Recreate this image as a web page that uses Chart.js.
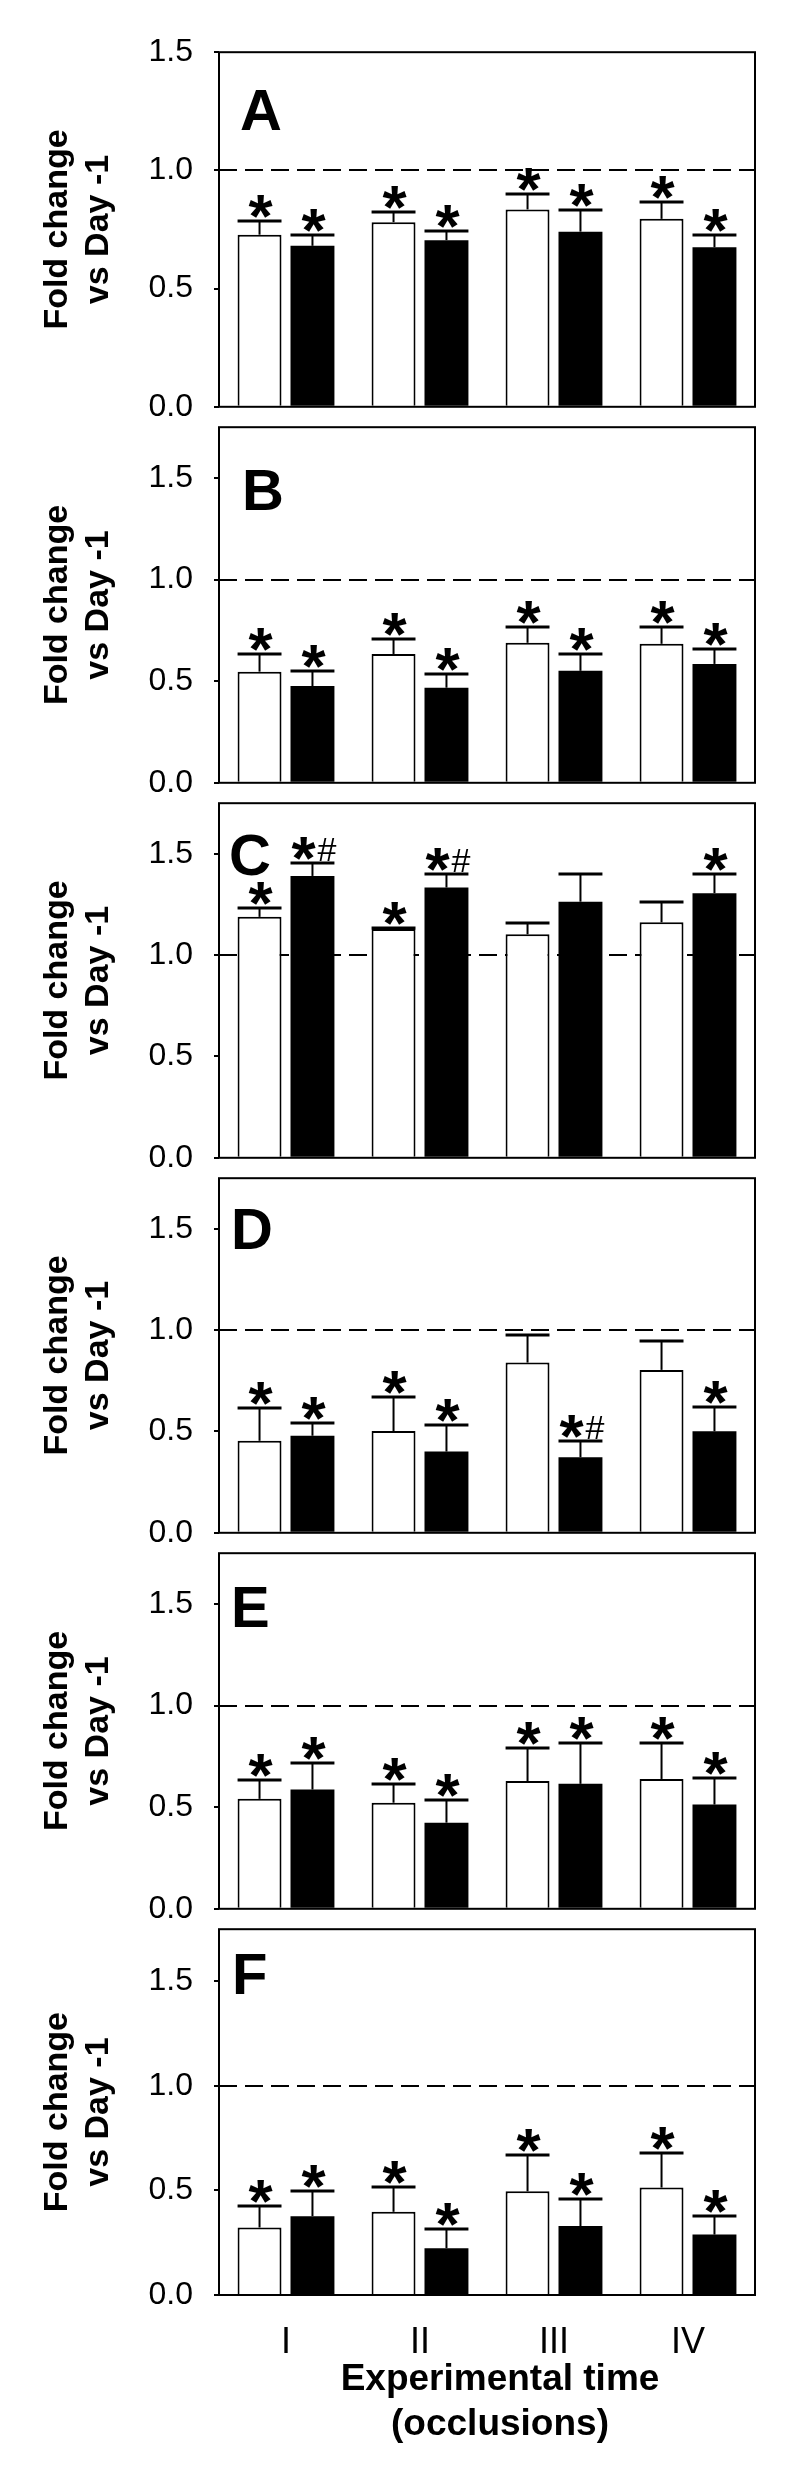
<!DOCTYPE html>
<html>
<head>
<meta charset="utf-8">
<script src="https://cdn.jsdelivr.net/npm/chart.js@4.4.1/dist/chart.umd.min.js"></script>
<style>
  body { margin: 0; background: #fff; }
  #fig { position: relative; width: 800px; height: 2475px; background: #fff; }
  #fig canvas { position: absolute; left: 0; }
</style>
</head>
<body>
<div id="fig"></div>
<script>
/*======== DATOS =============*/
const categories = ['I', 'II', 'III', 'IV'];
const yTicks = [0, 0.5, 1.0, 1.5];
const panelLetters = ['A', 'B', 'C', 'D', 'E', 'F'];
const yMax = [1.5, 1.75, 1.75, 1.75, 1.75, 1.75];
const refLine = 1.0;
const xTitle = ['Experimental time', '(occlusions)'];
const yTitle = ['Fold change', 'vs Day -1'];

// A
const aWhite = [0.728, 0.781, 0.835, 0.795];
const aWhiteErr = [0.060, 0.044, 0.066, 0.073];
const aBlack = [0.681, 0.705, 0.741, 0.675];
const aBlackErr = [0.044, 0.040, 0.091, 0.053];
const aWhiteSig = ['*', '*', '*', '*'];
const aBlackSig = ['*', '*', '*', '*'];
// B
const bWhite = [0.547, 0.634, 0.689, 0.684];
const bWhiteErr = [0.087, 0.076, 0.076, 0.081];
const bBlack = [0.476, 0.468, 0.551, 0.585];
const bBlackErr = [0.075, 0.068, 0.081, 0.072];
const bWhiteSig = ['*', '*', '*', '*'];
const bBlackSig = ['*', '*', '*', '*'];
// C
const cWhite = [1.189, 1.129, 1.103, 1.162];
const cWhiteErr = [0.042, 0.006, 0.054, 0.100];
const cBlack = [1.391, 1.334, 1.264, 1.306];
const cBlackErr = [0.066, 0.068, 0.135, 0.093];
const cWhiteSig = ['*', '*', '', ''];
const cBlackSig = ['*#', '*#', '', '*'];
// D
const dWhite = [0.454, 0.502, 0.840, 0.804];
const dWhiteErr = [0.163, 0.167, 0.135, 0.141];
const dBlack = [0.479, 0.401, 0.373, 0.501];
const dBlackErr = [0.061, 0.131, 0.078, 0.121];
const dWhiteSig = ['*', '*', '', ''];
const dBlackSig = ['*', '*', '*#', '*'];
// E
const eWhite = [0.541, 0.522, 0.629, 0.639];
const eWhiteErr = [0.093, 0.093, 0.161, 0.179];
const eBlack = [0.587, 0.424, 0.615, 0.513];
const eBlackErr = [0.131, 0.112, 0.201, 0.133];
const eWhiteSig = ['*', '*', '*', '*'];
const eBlackSig = ['*', '*', '*', '*'];
// F
const fWhite = [0.323, 0.398, 0.496, 0.514];
const fWhiteErr = [0.103, 0.119, 0.173, 0.163];
const fBlack = [0.377, 0.224, 0.330, 0.289];
const fBlackErr = [0.119, 0.093, 0.129, 0.091];
const fWhiteSig = ['*', '*', '*', '*'];
const fBlackSig = ['*', '*', '*', '*'];

const panels = [
	[aWhite, aWhiteErr, aWhiteSig, aBlack, aBlackErr, aBlackSig],
	[bWhite, bWhiteErr, bWhiteSig, bBlack, bBlackErr, bBlackSig],
	[cWhite, cWhiteErr, cWhiteSig, cBlack, cBlackErr, cBlackSig],
	[dWhite, dWhiteErr, dWhiteSig, dBlack, dBlackErr, dBlackSig],
	[eWhite, eWhiteErr, eWhiteSig, eBlack, eBlackErr, eBlackSig],
	[fWhite, fWhiteErr, fWhiteSig, fBlack, fBlackErr, fBlackSig]
];

/*======== LAYOUT =============*/
const FONT = '"Liberation Sans", Arial, sans-serif';
const areaTop = [42, 417, 793, 1168, 1543, 1919];
const areaBottom = [417, 793, 1168, 1543, 1919, 2295];
const letterX = [240, 242, 229, 231, 231, 232];
const letterBase = [78, 83, 72, 71, 74, 65];
const PAD = 30;

/*======== PLUGIN: linea 1.0, barras de error, asteriscos, marco =============*/
const figPlugin = {
	id: 'fig',
	beforeDatasetsDraw(chart){
		const {ctx, chartArea: a} = chart;
		const y = chart.scales.y;
		const yy = Math.round(y.getPixelForValue(refLine));
		ctx.save();
		ctx.strokeStyle = '#000';
		ctx.lineWidth = 2;
		ctx.setLineDash([18, 8]);
		ctx.beginPath();
		ctx.moveTo(a.left, yy);
		ctx.lineTo(a.right, yy);
		ctx.stroke();
		ctx.restore();
	},
	afterDatasetsDraw(chart){
		const {ctx, chartArea: a} = chart;
		const y = chart.scales.y;
		const o = chart.options.plugins.fig;
		ctx.save();
		ctx.strokeStyle = '#000';
		ctx.fillStyle = '#000';
		chart.data.datasets.forEach((ds, di) => {
			const meta = chart.getDatasetMeta(di);
			meta.data.forEach((bar, i) => {
				const yTop = y.getPixelForValue(ds.data[i]);
				const yCap = Math.round(y.getPixelForValue(ds.data[i] + ds.err[i]));
				const w = bar.width;
				ctx.lineWidth = 2;
				ctx.beginPath();
				ctx.moveTo(bar.x, yTop);
				ctx.lineTo(bar.x, yCap);
				ctx.stroke();
				ctx.lineWidth = 3;
				ctx.beginPath();
				ctx.moveTo(bar.x - w / 2, yCap);
				ctx.lineTo(bar.x + w / 2, yCap);
				ctx.stroke();

				const s = ds.sig[i];
				if(s){
					ctx.font = 'bold 62px ' + FONT;
					ctx.textAlign = 'center';
					ctx.textBaseline = 'alphabetic';
					const m = ctx.measureText('*');
					const base = yCap - 3 - m.actualBoundingBoxDescent;
					const sx = s.length > 1 ? bar.x - 9 : bar.x + 1;
					ctx.fillText('*', sx, base);
					if(s.length > 1){
						ctx.font = '34px ' + FONT;
						ctx.textAlign = 'left';
						ctx.fillText('#', sx + m.actualBoundingBoxRight + 1, yCap - 2);
					}
				}
			});
		});
		// marco
		ctx.lineWidth = 2;
		ctx.setLineDash([]);
		ctx.strokeRect(a.left, a.top, a.right - a.left, a.bottom - a.top);
		// letra del panel
		ctx.font = 'bold 58px ' + FONT;
		ctx.textAlign = 'left';
		ctx.textBaseline = 'alphabetic';
		ctx.fillText(o.letter, o.letterX, a.top + o.letterBase);
		// titulo eje x
		if(o.last){
			ctx.font = 'bold 37px ' + FONT;
			ctx.textAlign = 'center';
			ctx.fillText(xTitle[0], 500, a.bottom + 95);
			ctx.fillText(xTitle[1], 500, a.bottom + 140);
		}
		ctx.restore();
	}
};

/*======== GRAFICAS =============*/
function cargarPanel(p){
	const last = p === panels.length - 1;
	const [w, wErr, wSig, b, bErr, bSig] = panels[p];
	const canvas = document.createElement('canvas');
	const top = areaTop[p] - PAD;
	const xH = last ? 180 : 0;
	const height = last ? 2475 - top : (areaBottom[p] - areaTop[p]) + 2 * PAD;
	canvas.width = 800;
	canvas.height = height;
	canvas.style.top = top + 'px';
	canvas.style.width = '800px';
	canvas.style.height = height + 'px';
	document.getElementById('fig').appendChild(canvas);

	new Chart(canvas.getContext('2d'), {
		type: 'bar',
		data: {
			labels: categories,
			datasets: [{
				data: w, err: wErr, sig: wSig,
				backgroundColor: '#fff', borderColor: '#000', borderWidth: 2,
				categoryPercentage: 0.79, barPercentage: 0.83
			},{
				data: b, err: bErr, sig: bSig,
				backgroundColor: '#000', borderColor: '#000', borderWidth: 0,
				categoryPercentage: 0.79, barPercentage: 0.83
			}]
		},
		options: {
			responsive: false,
			animation: false,
			devicePixelRatio: 1,
			events: [],
			layout: { padding: { top: PAD, bottom: last ? 0 : PAD, left: 0, right: 45 } },
			plugins: {
				legend: { display: false },
				tooltip: { enabled: false },
				fig: { letter: panelLetters[p], letterX: letterX[p], letterBase: letterBase[p], last: last }
			},
			scales: {
				x: {
					display: last,
					grid: { display: false },
					border: { display: false },
					ticks: { color: '#000', font: { family: FONT, size: 36 }, padding: 18 },
					afterFit(s){ s.height = xH; }
				},
				y: {
					min: 0,
					max: yMax[p],
					afterBuildTicks(s){ s.ticks = yTicks.map(v => ({ value: v })); },
					afterFit(s){ s.width = 219; },
					grid: { drawOnChartArea: false, drawTicks: true, tickLength: 5, color: '#000', lineWidth: 2 },
					border: { display: false },
					ticks: { color: '#000', font: { family: FONT, size: 32 }, padding: 21,
						callback: v => Number(v).toFixed(1) },
					title: { display: true, text: yTitle, color: '#000',
						font: { family: FONT, size: 34, weight: 'bold', lineHeight: 1.2 },
						padding: { top: 37, bottom: 0 } }
				}
			}
		},
		plugins: [figPlugin]
	});
}

panels.forEach((_, p) => cargarPanel(p));
</script>
</body>
</html>
